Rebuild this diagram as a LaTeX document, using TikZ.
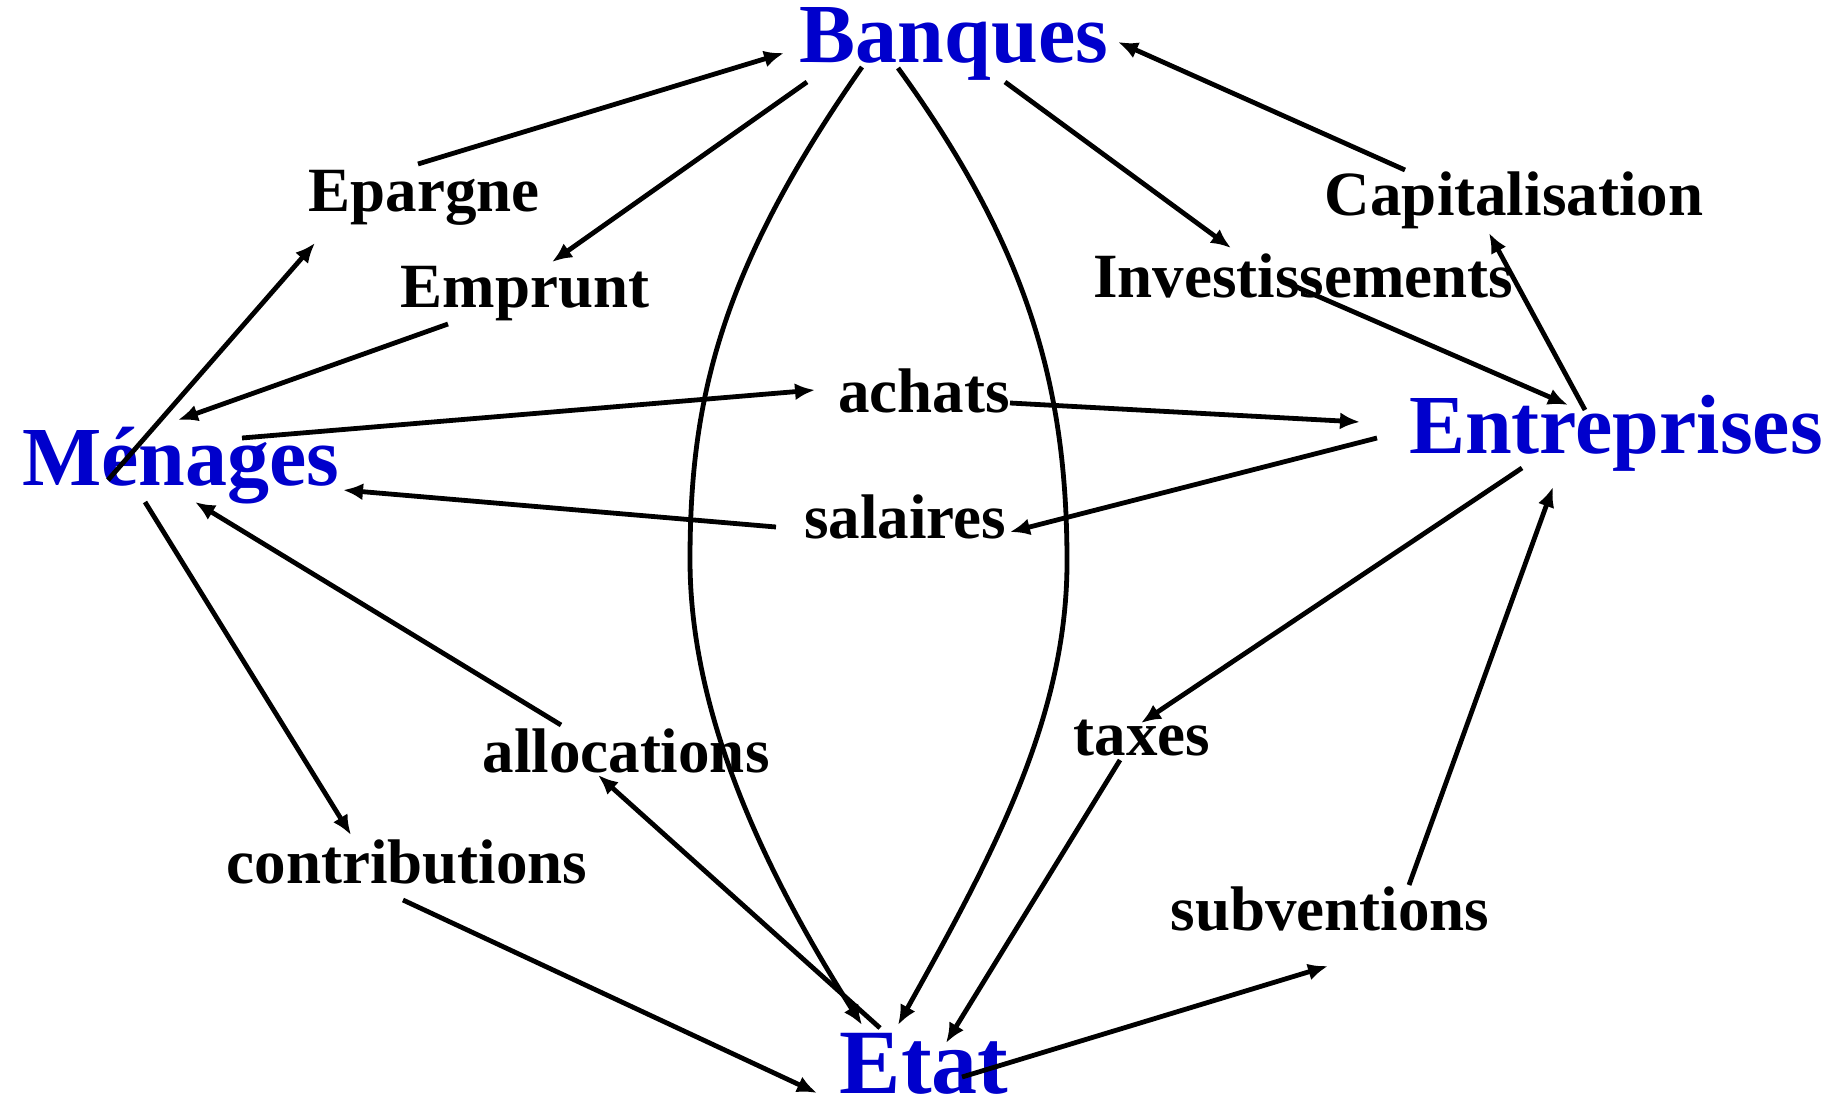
\documentclass[tikz,border=0pt]{standalone}
\usepackage{fontspec}
\setmainfont{Liberation Serif}
\usepackage{tikz}
\usetikzlibrary{arrows.meta}
\definecolor{bleu}{RGB}{0,0,204}

\begin{document}
\begin{tikzpicture}[
    x=0.5pt, y=-0.5pt,
    acteur/.style={font=\fontsize{42}{42}\selectfont\bfseries, text=bleu,
                   inner sep=0pt, anchor=base},
    flux/.style={font=\fontsize{31.5}{31.5}\selectfont\bfseries,
                 inner sep=0pt, anchor=base},
    fleche/.style={-{Latex[length=10pt,width=8.5pt]}, line width=2.4pt}
  ]
    \useasboundingbox (0,0) rectangle (1835,1102);
    \node[acteur] (ban) at (954,63)   {Banques};
    \node[acteur] (men) at (181,485)  {Ménages};
    \node[acteur] (ent) at (1616,453) {Entreprises};
    \node[acteur, font=\fontsize{46}{46}\selectfont\bfseries] (eta) at (924,1093) {Etat};
    \node[flux] (epa) at (424,211)  {Epargne};
    \node[flux] (emp) at (525,307)  {Emprunt};
    \node[flux] (inv) at (1303,297) {Investissements};
    \node[flux] (cap) at (1514,215) {Capitalisation};
    \node[flux] (ach) at (924,412)  {achats};
    \node[flux] (sal) at (905,538)  {salaires};
    \node[flux] (all) at (626,772)  {allocations};
    \node[flux] (tax) at (1142,755) {taxes};
    \node[flux] (con) at (407,883)  {contributions};
    \node[flux] (sub) at (1330,930) {subventions};
    % banques
    \draw[fleche] ([shift={(-6,-47)}]epa.base) -- ([shift={(-170,-10)}]ban.base);
    \draw[fleche] ([shift={(-147,19)}]ban.base) -- ([shift={(27,-45)}]emp.base);
    \draw[fleche] ([shift={(51,19)}]ban.base) -- ([shift={(-72,-49)}]inv.base);
    \draw[fleche] ([shift={(-109,-45)}]cap.base) -- ([shift={(164,-21)}]ban.base);
    \draw[fleche] ([shift={(-92,4)}]ban.base) .. controls (720,270) and (690,400) .. (690,560)
        .. controls (690,720) and (770,880) .. ([shift={(-62,-68)}]eta.base);
    \draw[fleche] ([shift={(-56,5)}]ban.base) .. controls (1030,250) and (1067,390) .. (1067,562)
        .. controls (1067,720) and (990,860) .. ([shift={(-26,-68)}]eta.base);
    % menages
    \draw[fleche] ([shift={(-73,-5)}]men.base) -- ([shift={(-109,32)}]epa.base);
    \draw[fleche] ([shift={(-77,17)}]emp.base) -- ([shift={(-3,-65)}]men.base);
    \draw[fleche] ([shift={(61,-47)}]men.base) -- ([shift={(-109,-22)}]ach.base);
    \draw[fleche] ([shift={(-129,-11)}]sal.base) -- ([shift={(162,5)}]men.base);
    \draw[fleche] ([shift={(-36,17)}]men.base) -- ([shift={(-56,-48)}]con.base);
    \draw[fleche] ([shift={(-65,-47)}]all.base) -- ([shift={(14,17)}]men.base);
    % entreprises
    \draw[fleche] ([shift={(86,-9)}]ach.base) -- ([shift={(-256,-31)}]ent.base);
    \draw[fleche] ([shift={(-239,-15)}]ent.base) -- ([shift={(105,-6)}]sal.base);
    \draw[fleche] ([shift={(-18,-15)}]inv.base) -- ([shift={(-48,-48)}]ent.base);
    \draw[fleche] ([shift={(-31,-43)}]ent.base) -- ([shift={(-25,18)}]cap.base);
    \draw[fleche] ([shift={(-94,15)}]ent.base) -- ([shift={(-1,-32)}]tax.base);
    \draw[fleche] ([shift={(79,-45)}]sub.base) -- ([shift={(-63,34)}]ent.base);
    % etat
    \draw[fleche] ([shift={(-4,17)}]con.base) -- ([shift={(-107,0)}]eta.base);
    \draw[fleche] ([shift={(-44,-65)}]eta.base) -- ([shift={(-28,3)}]all.base);
    \draw[fleche] ([shift={(-22,5)}]tax.base) -- ([shift={(22,-50)}]eta.base);
    \draw[fleche] ([shift={(38,-16)}]eta.base) -- ([shift={(-2,36)}]sub.base);
\end{tikzpicture}
\end{document}
